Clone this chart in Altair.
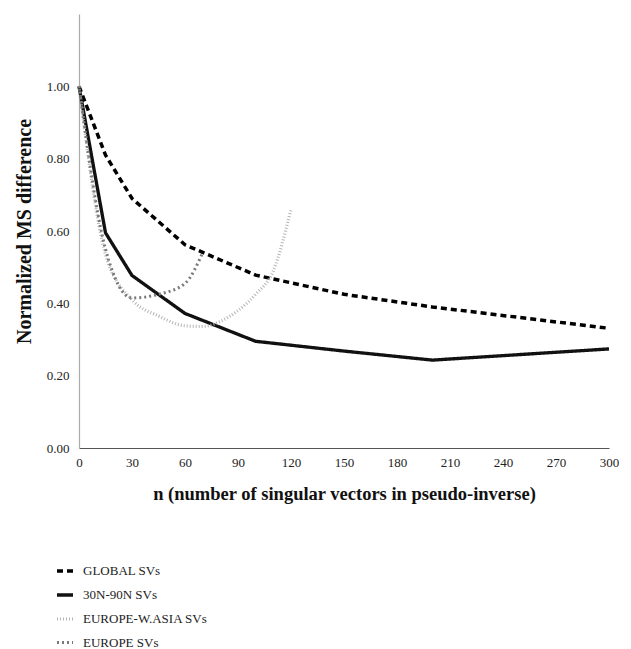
import altair as alt
import pandas as pd

series_names = ["GLOBAL SVs", "30N-90N SVs", "EUROPE-W.ASIA SVs", "EUROPE SVs"]

global_n = [0, 15, 30, 60, 100, 150, 200, 300]
global_v = [1.00, 0.81, 0.69, 0.562, 0.478, 0.425, 0.390, 0.331]

n30_n = [0, 15, 30, 60, 100, 150, 200, 300]
n30_v = [1.00, 0.595, 0.477, 0.372, 0.295, 0.268, 0.243, 0.274]

ew_n = [0, 15, 30, 45, 60, 70, 80, 90, 100, 110, 120]
ew_v = [1.00, 0.535, 0.41, 0.365, 0.338, 0.336, 0.35, 0.38, 0.425, 0.49, 0.66]

eu_n = [0, 15, 30, 45, 60, 70]
eu_v = [1.00, 0.55, 0.415, 0.425, 0.455, 0.54]

smooth = {"GLOBAL SVs": False, "30N-90N SVs": False,
          "EUROPE-W.ASIA SVs": True, "EUROPE SVs": True}

rows = []
for name, ns, vs in zip(series_names,
                        [global_n, n30_n, ew_n, eu_n],
                        [global_v, n30_v, ew_v, eu_v]):
    for n, v in zip(ns, vs):
        rows.append({"series": name, "n": n, "v": v, "smooth": smooth[name]})
df = pd.DataFrame(rows)

x_ticks = list(range(0, 301, 30))
y_ticks = [0.0, 0.2, 0.4, 0.6, 0.8, 1.0]

font = "Liberation Serif"

leg = alt.Legend(title=None, orient="none", legendX=-24, legendY=547,
                 symbolType="stroke", symbolSize=256,
                 labelFont=font, labelFontSize=13, labelColor="#222",
                 rowPadding=7, labelOffset=8, padding=0)

enc = dict(
    x=alt.X("n:Q",
            scale=alt.Scale(domain=[0, 300], nice=False),
            axis=alt.Axis(values=x_ticks, title="n (number of singular vectors in pseudo-inverse)",
                          grid=False, ticks=False, labelPadding=8,
                          labelFont=font, labelFontSize=13, labelColor="#222",
                          titleFont=font, titleFontSize=18.5, titleFontWeight="bold",
                          titleColor="#111", titlePadding=15,
                          domainColor="#555", domainWidth=1.2, labelFlush=False)),
    y=alt.Y("v:Q",
            scale=alt.Scale(domain=[0, 1.2], nice=False),
            axis=alt.Axis(values=y_ticks, format=".2f", title="Normalized MS difference",
                          grid=False, ticks=False, labelPadding=10,
                          labelFont=font, labelFontSize=13, labelColor="#222",
                          titleFont=font, titleFontSize=20, titleFontWeight="bold",
                          titleColor="#111", titlePadding=12,
                          domainColor="#aaa", domainWidth=1.2)),
    color=alt.Color("series:N",
                    scale=alt.Scale(domain=series_names,
                                    range=["#000000", "#111111", "#b5b5b5", "#7a7a7a"]),
                    legend=leg),
    strokeDash=alt.StrokeDash("series:N",
                              scale=alt.Scale(domain=series_names,
                                              range=[[6, 4], [1, 0], [1, 2], [2, 3]]),
                              legend=leg),
    strokeWidth=alt.StrokeWidth("series:N",
                                scale=alt.Scale(domain=series_names,
                                                range=[3.5, 3.0, 1.2, 2.0]),
                                legend=leg),
    order=alt.Order("n:Q"),
)

base = alt.Chart(df)
straight = base.transform_filter("!datum.smooth").mark_line(interpolate="linear").encode(**enc)
curved = base.transform_filter("datum.smooth").mark_line(interpolate="monotone").encode(**enc)

chart = alt.layer(straight, curved).properties(
    width=530,
    height=434,
    padding={"left": 71, "top": 6, "right": 10, "bottom": 201},
    autosize=alt.AutoSizeParams(type="none"),
).configure(background="white").configure_view(strokeWidth=0)

chart.save("out.html", embed_options={"renderer": "svg", "actions": False})
